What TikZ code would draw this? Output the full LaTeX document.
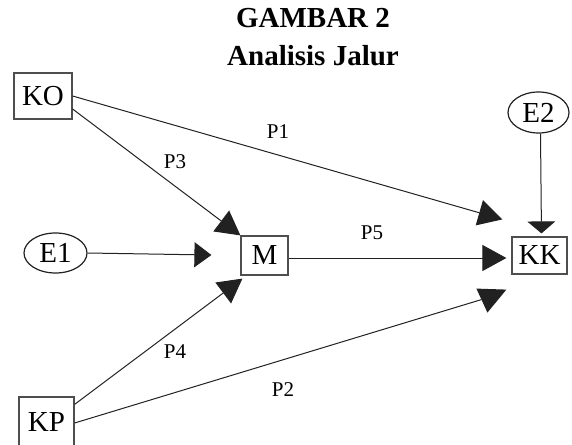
\documentclass[tikz,border=0pt]{standalone}
\usepackage{fontspec}
\setmainfont{Liberation Serif}
\usetikzlibrary{shapes.geometric, arrows.meta}
\definecolor{linegray}{rgb}{0.13,0.13,0.13}

\begin{document}
\begin{tikzpicture}[x=0.5pt, y=-0.5pt,
    var/.style={rectangle, draw=linegray!80, line width=0.6pt, inner sep=0pt, font=\fontsize{14.5}{16}\selectfont},
    err/.style={ellipse, draw=linegray, line width=0.6pt, inner sep=0pt, font=\fontsize{14.5}{16}\selectfont},
    coef/.style={font=\fontsize{10.5}{12}\selectfont},
    heading/.style={anchor=base, font=\bfseries\fontsize{14.5}{16}\selectfont},
    arrow/.style={-{Triangle[length=12pt, width=13pt]}, line width=0.5pt, linegray}
]
\useasboundingbox (0,0) rectangle (572,444);

\node[heading] (title) at (313,28) {GAMBAR 2};
\node[heading] (subtitle) at (313,66) {Analisis Jalur};

% variables
\node[var, minimum width=29pt, minimum height=23pt] (KO) at (43,96) {KO};
\node[var, minimum width=27.5pt, minimum height=25pt] (KP) at (46.5,422) {KP};
\node[var, minimum width=23.5pt, minimum height=19.5pt] (M) at (264.5,255.5) {M};
\node[var, minimum width=27.5pt, minimum height=18.5pt] (KK) at (539.5,255.5) {KK};
\node[err, minimum width=31.5pt, minimum height=20pt] (E1) at (55.5,253) {E1};
\node[err, minimum width=30.5pt, minimum height=20.5pt] (E2) at (538.5,112.5) {E2};

% paths
\draw[arrow] (KO.east) -- ([xshift=-4.5pt, yshift=8.5pt]KK.north west);
\draw[arrow] ([yshift=-6.5pt]KO.east) -- (M.north west);
\draw[arrow, -{Triangle[length=8.5pt, width=12.5pt]}, shorten >=14.5pt] (E1.east) -- (M.west);
\draw[arrow, shorten >=2.5pt] ([yshift=-1.25pt]M.east) -- ([yshift=-1.25pt]KK.west);
\draw[arrow, -{Triangle[length=6pt, width=14pt]}, shorten >=1.5pt] ([xshift=1pt]E2.south) -- ([xshift=1pt]KK.north);
\draw[arrow] ([yshift=-4pt]KP.north east) -- ([xshift=1pt, yshift=-1.5pt]M.south west);
\coordinate (p2end) at ([xshift=-15pt, yshift=-12.5pt]KK.south west);
\draw[line width=0.5pt, linegray] ([yshift=-0.5pt]KP.east) -- (p2end);
\fill[linegray] (p2end) ++(-5,-11) -- ++(30,1) -- ++(-19,23) -- cycle;

% coefficients
\node[coef] (p1) at (278,132) {P1};
\node[coef] (p3) at (175,162) {P3};
\node[coef] (p5) at (372,233) {P5};
\node[coef] (p4) at (175,352) {P4};
\node[coef] (p2) at (283,390) {P2};

\end{tikzpicture}
\end{document}
